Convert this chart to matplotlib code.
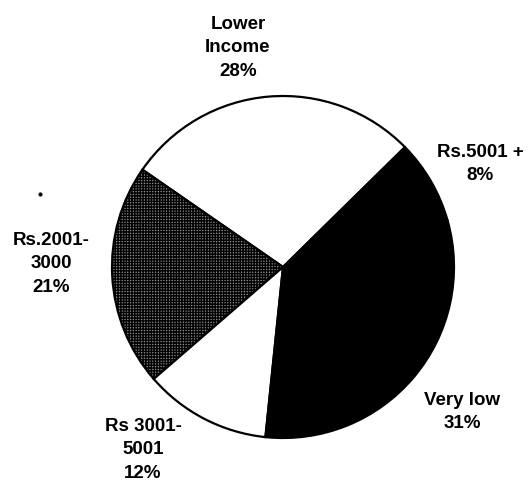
import matplotlib
matplotlib.use("Agg")
import matplotlib.pyplot as plt

# income groups, counter-clockwise from the top-right boundary
groups = ["Lower\nIncome", "Rs.2001-\n3000", "Rs 3001-\n5001", "Very low", "Rs.5001 +"]
shares = [28, 21, 12, 31, 8]
fills = ["white", "white", "white", "black", "black"]
hatches = [None, "++++++", None, None, None]

# label centres in pixel coordinates (x right, y down)
label_xy = [(238, 48), (51, 264), (143, 450), (462, 412), (480, 164)]

W, H = 530, 484
plt.rcParams["hatch.linewidth"] = 1.0
fig = plt.figure(figsize=(W / 100, H / 100), dpi=100)
ax = fig.add_axes([0, 0, 1, 1])

wedges, _ = ax.pie(shares, startangle=44.5, counterclock=True,
                   colors=fills, center=(283, H - 267), radius=171,
                   wedgeprops=dict(edgecolor="black", linewidth=1.6),
                   frame=True)
for w, h in zip(wedges, hatches):
    if h:
        w.set_hatch(h)
        w.set_facecolor("#8c8c8c")

for name, pct, (x, y) in zip(groups, shares, label_xy):
    ax.text(x, H - y, f"{name}\n{pct}%", ha="center", va="center",
            fontsize=13.5, fontweight="bold", family="Liberation Sans",
            linespacing=1.5)

# stray dot left of the pie
ax.plot([40], [H - 194], "o", color="black", markersize=2)

ax.set_xlim(0, W)
ax.set_ylim(0, H)
ax.set_aspect("equal")
ax.axis("off")
fig.savefig("out.png", dpi=100)
